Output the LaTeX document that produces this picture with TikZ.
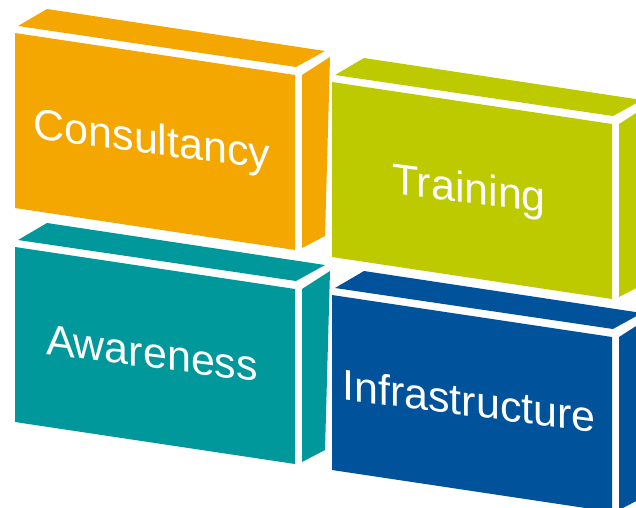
\documentclass[tikz,border=0pt]{standalone}
\usepackage{fontspec}
\setmainfont{Liberation Sans}
\usepackage{tikz}
\definecolor{consultorange}{HTML}{F4A700}
\definecolor{traininglime}{HTML}{BDCA00}
\definecolor{awareteal}{HTML}{00989B}
\definecolor{infrablue}{HTML}{00539B}

\begin{document}
\begin{tikzpicture}[
  x=1pt, y=-1pt,
  brick label/.style={text=white, font=\fontsize{43}{50}\selectfont, anchor=base, yslant=-0.13, inner sep=0pt}
]
\useasboundingbox (0,0) rectangle (636,507);
\fill[white] (0,0) rectangle (636,507);
\clip (0,0) rectangle (636,507);

% one brick per service, all the same shape, shifted into place
\foreach \ox/\oy/\col/\name/\txt in {15/33/consultorange/consult/Consultancy,
                                     332/82/traininglime/train/Training,
                                     15/247/awareteal/aware/Awareness,
                                     332/295/infrablue/infra/Infrastructure} {
  \begin{scope}[shift={(\ox,\oy)}]
    % front face
    \fill[\col] (0,0) -- (280,42) -- (280,217) -- (0,175) -- cycle;
    % top face
    \fill[\col] (3,-7) -- (32,-24) -- (310,18) -- (281,34) -- cycle;
    % side face
    \fill[\col] (287,42) -- (315,24) -- (310,203) -- (287,215) -- cycle;
    \node[brick label] (\name) at (137,121) {\txt};
  \end{scope}
}
\end{tikzpicture}
\end{document}
